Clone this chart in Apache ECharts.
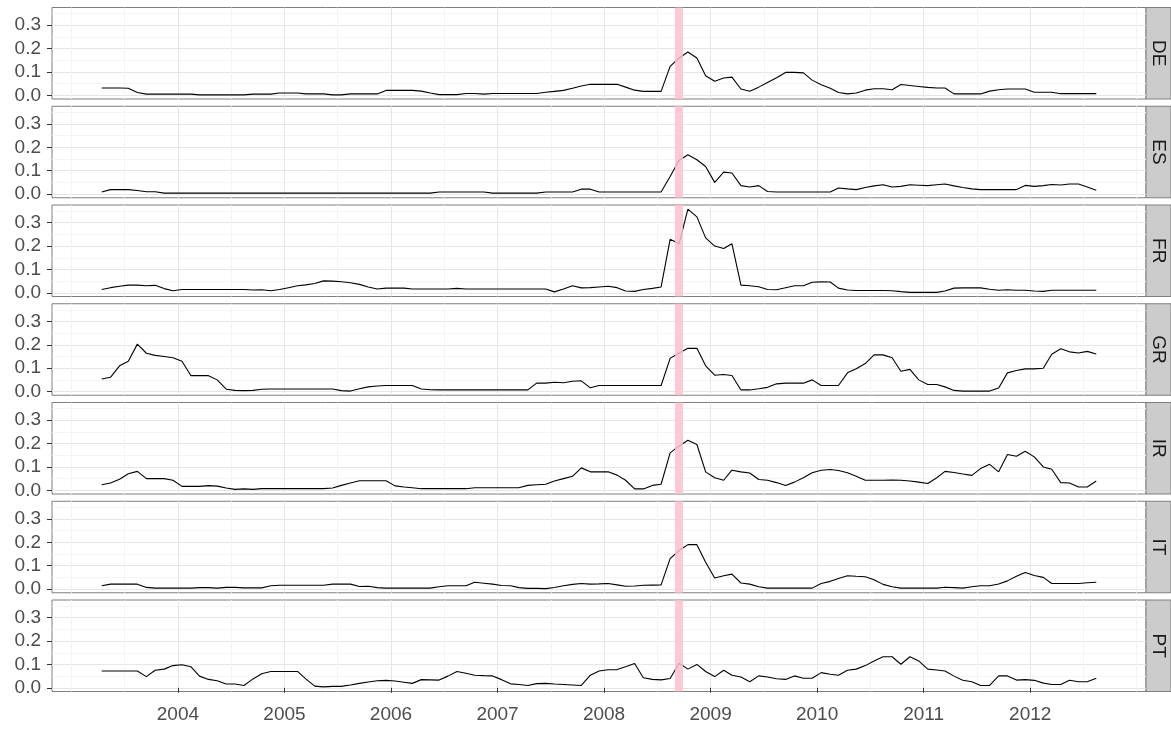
<!DOCTYPE html>
<html>
<head>
<meta charset="utf-8">
<script src="https://cdn.jsdelivr.net/npm/echarts@6/dist/echarts.min.js"></script>
<style>html,body{margin:0;padding:0;background:#fff}#chart{width:1171px;height:729px}</style>
</head>
<body>
<div id="chart"></div>
<script>
// ---- data ----
const startMonth = '2003-04';   // first observation (monthly, mid-month)
const endMonth = '2012-08';     // last observation
const panels = ['DE', 'ES', 'FR', 'GR', 'IR', 'IT', 'PT'];
const eventDate = '2008-09-15'; // highlighted date
const yearTicks = [2004, 2005, 2006, 2007, 2008, 2009, 2010, 2011, 2012];
const yearMinor = [2003, 2003.5, 2004.5, 2005.5, 2006.5, 2007.5, 2008.5, 2009.5, 2010.5, 2011.5, 2012.5, 2013];
const yTicks = [0, 0.1, 0.2, 0.3];
const yMinor = [0.05, 0.15, 0.25, 0.35];

const DE = [0.031,0.031,0.031,0.030,0.012,0.005,0.005,0.005,0.005,0.005,0.005,
0.002,0.002,0.002,0.002,0.002,0.002,0.005,0.005,0.005,0.010,0.010,0.010,0.006,0.006,0.006,0.002,0.002,0.006,0.006,0.006,0.006,0.021,0.021,0.021,0.021,
0.018,0.010,0.003,0.003,0.003,0.008,0.008,0.005,0.008,0.008,0.008,0.008,0.008,0.008,
0.013,0.017,0.021,0.030,0.040,0.047,0.047,0.047,0.047,0.035,0.022,0.017,0.017,0.017,
0.124,0.160,0.185,0.160,0.084,0.060,0.074,0.078,0.027,0.017,0.035,0.055,0.075,0.098,0.098,0.096,0.065,0.045,0.030,0.012,0.006,0.010,0.022,0.028,0.028,0.024,0.046,0.042,0.038,0.034,0.031,0.031,
0.006,0.006,0.006,0.006,0.018,0.024,0.027,0.027,0.027,0.013,0.013,0.013,0.007,0.007,0.007,0.007,0.007];

const ES = [0.009,0.019,0.019,0.019,0.015,0.010,0.010,
0.004,0.004,0.004,0.004,0.004,0.004,0.004,0.004,0.004,0.004,0.004,0.004,0.004,0.004,0.004,0.004,0.004,0.004,0.004,0.004,0.004,0.004,0.004,0.004,0.004,0.004,0.004,0.004,0.004,0.004,0.004,
0.009,0.009,0.009,0.009,0.009,0.009,0.004,0.004,0.004,0.004,0.004,0.004,0.009,0.009,0.009,0.009,0.021,0.021,
0.009,0.009,0.009,0.009,0.009,0.009,0.009,0.009,
0.075,0.145,0.168,0.147,0.118,0.050,0.094,0.090,0.036,0.030,0.036,0.011,
0.009,0.009,0.009,0.009,0.009,0.009,0.009,
0.026,0.022,0.019,0.028,0.035,0.040,0.030,0.033,0.040,0.038,0.036,0.040,0.043,0.035,0.028,0.022,
0.019,0.019,0.019,0.019,0.019,
0.037,0.033,0.036,0.041,0.039,0.043,0.043,0.030,0.016];

const FR = [0.014,0.022,0.028,0.033,0.033,0.030,0.032,0.018,0.009,
0.014,0.014,0.014,0.014,0.014,0.014,0.014,0.014,
0.012,0.013,0.009,0.014,0.022,0.030,0.034,0.040,0.051,0.050,0.047,0.043,0.036,0.025,0.016,
0.020,0.020,0.020,
0.016,0.016,0.016,0.016,0.016,0.019,0.016,0.016,0.016,0.016,0.016,0.016,0.016,0.016,0.016,0.016,
0.004,0.016,0.030,0.021,0.022,0.025,0.028,0.022,0.008,0.006,0.014,0.019,0.025,
0.229,0.210,0.358,0.325,0.235,0.200,0.190,0.210,0.033,0.030,0.026,0.014,0.013,0.022,0.030,0.030,0.045,0.047,0.046,0.020,0.012,
0.010,0.010,0.010,0.010,0.009,0.005,0.002,0.002,0.002,0.002,0.008,0.020,0.021,0.021,0.021,
0.015,0.011,0.013,0.011,0.011,0.008,0.006,0.011,0.011,0.011,0.011,0.011,0.011];

const GR = [0.054,0.061,0.110,0.130,0.203,0.164,0.155,0.150,0.145,0.130,0.068,0.068,0.068,0.050,0.010,0.005,0.004,0.005,0.010,
0.011,0.011,0.011,0.011,0.011,0.011,0.011,0.011,
0.004,0.002,0.012,0.020,0.024,0.026,0.026,0.026,0.026,0.011,0.008,
0.007,0.007,0.007,0.007,0.007,0.007,0.007,0.007,0.007,0.007,0.007,
0.036,0.036,0.040,0.038,0.044,0.046,0.016,0.026,
0.026,0.026,0.026,0.026,0.026,0.026,0.026,
0.142,0.165,0.185,0.185,0.110,0.070,0.073,0.069,0.007,0.007,0.012,0.018,0.033,0.036,0.036,0.036,0.050,0.026,0.026,0.026,0.080,0.098,0.120,0.157,0.157,0.145,0.087,0.095,0.050,0.030,0.030,0.020,0.005,
0.002,0.002,0.002,0.002,
0.015,0.080,0.090,0.097,0.097,0.100,0.160,0.183,0.170,0.165,0.172,0.161];

const IR = [0.024,0.031,0.047,0.071,0.081,0.050,0.050,0.050,0.043,0.017,0.017,0.017,0.020,0.018,0.010,0.004,0.006,0.004,
0.007,0.007,0.007,0.007,0.007,0.007,0.007,0.007,
0.010,0.021,0.031,0.041,0.041,0.041,0.041,
0.019,0.014,0.011,
0.007,0.007,0.007,0.007,0.007,0.007,
0.011,0.011,0.011,0.011,0.011,0.011,
0.021,0.024,0.026,0.040,0.050,0.060,0.096,0.079,0.079,0.079,0.065,0.043,0.006,0.006,0.021,0.026,
0.160,0.190,0.214,0.196,0.079,0.054,0.043,0.086,0.079,0.074,0.046,0.043,0.033,0.021,0.035,0.054,0.075,0.086,0.089,0.085,0.075,0.060,0.043,0.043,0.043,0.044,0.043,0.040,0.035,0.029,
0.054,0.081,0.076,0.070,0.064,0.093,0.111,0.079,0.153,0.146,0.167,0.143,0.100,0.090,0.033,0.031,0.014,0.014,0.040];

const IT = [0.014,0.021,0.021,0.021,0.021,0.007,
0.004,0.004,0.004,0.004,0.004,
0.006,0.006,0.004,0.007,0.007,
0.005,0.005,0.005,0.014,
0.016,0.016,0.016,0.016,0.016,0.016,
0.021,0.021,0.021,0.011,0.012,0.006,
0.004,0.004,0.004,0.004,0.004,0.004,
0.010,0.014,0.014,0.014,0.029,0.025,0.021,0.015,0.014,0.006,0.003,0.003,0.002,0.007,0.014,0.020,0.024,0.021,0.022,0.024,0.018,0.012,0.013,0.016,0.017,0.018,
0.130,0.165,0.190,0.190,0.115,0.047,0.057,0.064,0.026,0.021,0.010,
0.004,0.004,0.004,0.004,0.004,0.004,
0.024,0.033,0.045,0.057,0.055,0.053,0.040,0.020,0.010,
0.004,0.004,0.004,0.004,0.004,
0.008,0.006,0.004,0.010,0.014,0.014,0.022,0.035,0.055,0.071,0.058,0.050,0.024,0.024,0.024,0.024,0.027,0.029];

const PT = [0.072,0.072,0.072,0.072,0.072,
0.048,0.075,0.080,0.095,0.099,0.090,0.050,0.036,0.030,0.016,0.016,0.010,0.038,0.060,
0.070,0.070,0.070,0.070,
0.038,0.007,0.004,0.006,0.006,0.012,0.019,0.025,0.030,0.032,0.029,0.024,0.019,0.035,0.034,0.033,0.050,0.070,0.062,0.054,0.052,0.051,0.035,0.017,0.014,0.010,0.018,0.019,0.016,0.014,0.012,0.010,
0.054,0.072,0.077,0.078,0.090,0.104,0.043,0.036,0.034,0.040,0.105,0.080,0.100,0.070,0.048,0.075,0.054,0.046,0.026,0.051,0.046,0.039,0.036,0.051,0.041,0.041,0.065,0.058,0.054,0.075,0.080,0.095,0.115,0.133,0.133,0.101,0.133,0.115,0.080,0.076,0.072,0.050,0.032,0.026,0.010,0.010,0.051,0.051,0.033,0.035,0.032,0.020,0.014,0.014,0.032,0.026,0.026,0.041];

const seriesValues = [DE, ES, FR, GR, IR, IT, PT];

// ---- helpers ----
function decimalYear(y, m, d) {
  const t = Date.UTC(y, m - 1, d), a = Date.UTC(y, 0, 1), b = Date.UTC(y + 1, 0, 1);
  return y + (t - a) / (b - a);
}
const months = [];
(function () {
  let [y, m] = startMonth.split('-').map(Number);
  const [ey, em] = endMonth.split('-').map(Number);
  while (y < ey || (y === ey && m <= em)) { months.push([y, m]); m++; if (m > 12) { m = 1; y++; } }
})();
const xs = months.map(([y, m]) => decimalYear(y, m, 15));
const ev = eventDate.split('-').map(Number);
const eventX = decimalYear(ev[0], ev[1], ev[2]);

// ggplot-style 5% expansion
const allVals = [].concat(...seriesValues);
const vMin = Math.min(...allVals), vMax = Math.max(...allVals);
const xMin = xs[0] - 0.05 * (xs[xs.length - 1] - xs[0]);
const xMax = xs[xs.length - 1] + 0.05 * (xs[xs.length - 1] - xs[0]);
const yMin = vMin - 0.05 * (vMax - vMin);
const yMax = vMax + 0.05 * (vMax - vMin);

// ---- layout ----
const LEFT = 52, RIGHT = 25, TOP0 = 7.5, PITCH = 98.75, PH = 91.5, W = 1171;
const FONT = '"Liberation Sans", Arial, sans-serif';
const TXT = '#4D4D4D';
const MAJOR = '#E6E6E6', MINOR = '#F4F4F4', BORDER = '#7F7F7F';

const grids = [], xAxes = [], yAxes = [], series = [], graphics = [];
panels.forEach((name, i) => {
  const top = TOP0 + i * PITCH;
  const last = i === panels.length - 1;
  grids.push({ left: LEFT, right: RIGHT, top: top, height: PH, show: true,
    backgroundColor: '#fff', borderColor: BORDER, borderWidth: 1 });
  xAxes.push({ type: 'value', gridIndex: i, min: xMin, max: xMax, position: 'bottom',
    axisLine: { show: false },
    axisTick: { show: last, customValues: yearTicks, length: 5, lineStyle: { color: '#333' } },
    axisLabel: { show: last, customValues: yearTicks, formatter: v => String(Math.round(v)),
      fontSize: 19, color: TXT, fontFamily: FONT, margin: 14 },
    splitLine: { show: true, lineStyle: { color: MAJOR, width: 1 } } });
  xAxes.push({ type: 'value', gridIndex: i, min: xMin, max: xMax, position: 'top',
    axisLine: { show: false }, axisTick: { show: false, customValues: yearMinor },
    axisLabel: { show: false }, splitLine: { show: true, lineStyle: { color: MINOR, width: 1 } } });
  yAxes.push({ type: 'value', gridIndex: i, min: yMin, max: yMax, position: 'left',
    axisLine: { show: false },
    axisTick: { show: true, customValues: yTicks, length: 5, lineStyle: { color: '#333' } },
    axisLabel: { customValues: yTicks, formatter: v => v.toFixed(1), fontSize: 19, color: TXT,
      fontFamily: FONT, margin: 11 },
    splitLine: { show: true, lineStyle: { color: MAJOR, width: 1 } } });
  yAxes.push({ type: 'value', gridIndex: i, min: yMin, max: yMax, position: 'right',
    axisLine: { show: false }, axisTick: { show: false, customValues: yMinor },
    axisLabel: { show: false }, splitLine: { show: true, lineStyle: { color: MINOR, width: 1 } } });
  series.push({ type: 'line', name: name, xAxisIndex: 2 * i, yAxisIndex: 2 * i,
    data: xs.map((x, j) => [x, seriesValues[i][j]]),
    showSymbol: false, symbol: 'none', silent: true, z: 2,
    lineStyle: { color: '#000', width: 1.1 },
    markLine: { silent: true, symbol: ['none', 'none'], label: { show: false },
      lineStyle: { color: '#FFC0CB', width: 8, type: 'solid', opacity: 0.85 },
      emphasis: { disabled: true },
      data: [{ xAxis: eventX }] } });
  graphics.push({ type: 'rect', shape: { x: W - RIGHT, y: top, width: RIGHT, height: PH },
    style: { fill: '#CCCCCC', stroke: BORDER, lineWidth: 1 } });
  graphics.push({ type: 'text', x: W - RIGHT / 2, y: top + PH / 2, rotation: -Math.PI / 2,
    style: { text: name, fontSize: 19, fill: '#1A1A1A', fontFamily: FONT,
      align: 'center', verticalAlign: 'middle' } });
});

const chart = echarts.init(document.getElementById('chart'), null, { renderer: 'canvas' });
chart.setOption({
  animation: false,
  backgroundColor: '#fff',
  grid: grids, xAxis: xAxes, yAxis: yAxes, series: series, graphic: graphics
});
</script>
</body>
</html>
